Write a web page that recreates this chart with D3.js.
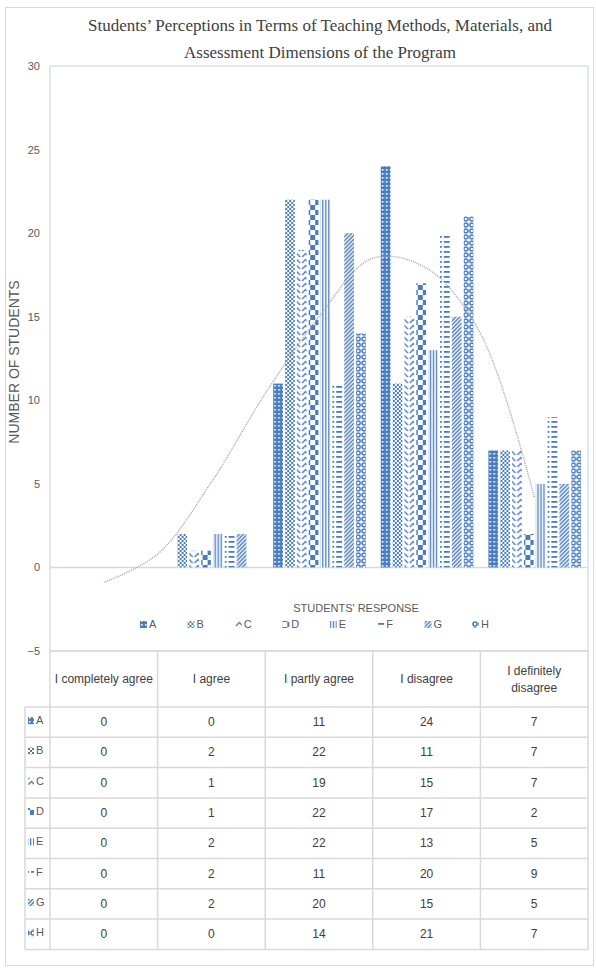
<!DOCTYPE html>
<html>
<head>
<meta charset="utf-8">
<script src="https://cdn.jsdelivr.net/npm/d3@7"></script>
<style>
  body { margin: 0; background: #fff; }
  svg { display: block; }
</style>
</head>
<body>
<div id="chart"></div>
<script>
// **Dữ liệu**
const categories = ["I completely agree", "I agree", "I partly agree", "I disagree", "I definitely disagree"];
const headerLines = [["I completely agree"], ["I agree"], ["I partly agree"], ["I disagree"], ["I definitely", "disagree"]];
const seriesNames = ["A", "B", "C", "D", "E", "F", "G", "H"];
const valuesA = [0, 0, 11, 24, 7];
const valuesB = [0, 2, 22, 11, 7];
const valuesC = [0, 1, 19, 15, 7];
const valuesD = [0, 1, 22, 17, 2];
const valuesE = [0, 2, 22, 13, 5];
const valuesF = [0, 2, 11, 20, 9];
const valuesG = [0, 2, 20, 15, 5];
const valuesH = [0, 0, 14, 21, 7];
const yTicks = [-5, 0, 5, 10, 15, 20, 25, 30];
// đường xu hướng (tại các vị trí danh mục 0, 0.5, 1, ... 4)
const trendPos = [0, 0.5, 1, 1.5, 2, 2.5, 3, 3.5, 4];
const trendVal = [-0.9, 0.8, 5.1, 10.4, 15.0, 18.5, 17.9, 14.0, 4.2];

const allValues = [valuesA, valuesB, valuesC, valuesD, valuesE, valuesF, valuesG, valuesH];
const rows = seriesNames.map((s, i) => ({ name: s, values: allValues[i] }));

const width = 596, height = 972;
const plot = { left: 50, right: 588, top: 66, bottom: 651 };
const blue = "#4a7cc0";

const svg = d3.select("#chart").append("svg")
    .attr("width", width)
    .attr("height", height)
    .style("font-family", "'Liberation Sans', Arial, sans-serif");

// **Patterns**
const defs = svg.append("defs");
function pat(id, w, h, draw) {
    const p = defs.append("pattern").attr("id", id)
        .attr("patternUnits", "userSpaceOnUse").attr("width", w).attr("height", h);
    p.append("rect").attr("width", w).attr("height", h).attr("fill", "#fff");
    draw(p);
}
// A: lưới nhỏ
pat("pA", 4, 4, p => {
    p.append("rect").attr("width", 4).attr("height", 4).attr("fill", blue);
    p.append("rect").attr("x", 1).attr("y", 1).attr("width", 1.6).attr("height", 1.6).attr("fill", "#fff");
});
// B: caro nhỏ
pat("pB", 4, 4, p => {
    p.append("rect").attr("width", 2).attr("height", 2).attr("fill", blue);
    p.append("rect").attr("x", 2).attr("y", 2).attr("width", 2).attr("height", 2).attr("fill", blue);
});
// C: zigzag
pat("pC", 9, 6, p => {
    p.append("path").attr("d", "M1,5 L4.5,1.5 L8,5").attr("fill", "none").attr("stroke", blue).attr("stroke-width", 1.4);
});
// D: caro lớn
pat("pD", 10, 10, p => {
    p.append("rect").attr("width", 5).attr("height", 5).attr("fill", blue);
    p.append("rect").attr("x", 5).attr("y", 5).attr("width", 5).attr("height", 5).attr("fill", blue);
});
// E: sọc dọc
pat("pE", 3, 4, p => {
    p.append("rect").attr("width", 1.3).attr("height", 4).attr("fill", blue);
});
// F: sọc ngang
pat("pF", 10, 5, p => {
    p.append("rect").attr("x", 1).attr("y", 1).attr("width", 8).attr("height", 1.8).attr("fill", blue);
});
// G: sọc chéo
pat("pG", 4, 4, p => {
    p.append("path").attr("d", "M-1,5 L5,-1 M-1,1 L1,-1 M3,5 L5,3").attr("stroke", blue).attr("stroke-width", 1.5);
});
// H: vòng tròn
pat("pH", 6, 6, p => {
    p.append("circle").attr("cx", 3).attr("cy", 3).attr("r", 2).attr("fill", "none").attr("stroke", blue).attr("stroke-width", 1.6);
});

// **Khung ngoài**
svg.append("rect")
    .attr("x", 5.5).attr("y", 7.5).attr("width", 588).attr("height", 958)
    .attr("fill", "none").attr("stroke", "#d9d9d9");

// **Thang đo**
const x0 = d3.scaleBand().domain(categories).range([plot.left, plot.right]).padding(0);
const x1 = d3.scaleBand().domain(seriesNames).range([8, x0.bandwidth() - 7]).paddingInner(0.18);
const y = d3.scaleLinear().domain([-5, 30]).range([plot.bottom, plot.top]);

// **Khung vùng vẽ**
svg.append("rect")
    .attr("x", plot.left).attr("y", plot.top)
    .attr("width", plot.right - plot.left).attr("height", plot.bottom - plot.top)
    .attr("fill", "none").attr("stroke", "#bdd0ea");

// **Trục Y**
const yAxis = svg.append("g")
    .attr("transform", `translate(${plot.left},0)`)
    .call(d3.axisLeft(y).tickValues(yTicks).tickSize(0).tickPadding(10));
yAxis.select(".domain").remove();
yAxis.selectAll("text")
    .attr("fill", "#595959")
    .style("font-size", "11px")
    .style("font-family", "'Liberation Sans', Arial, sans-serif");

// đường 0
svg.append("line")
    .attr("x1", plot.left).attr("x2", plot.right)
    .attr("y1", y(0)).attr("y2", y(0))
    .attr("stroke", "#d9d9d9").attr("stroke-width", 1.5);

// **Vẽ cột**
const groups = svg.selectAll(".grp")
    .data(categories)
    .enter().append("g")
    .attr("class", "grp")
    .attr("transform", d => `translate(${x0(d)},0)`);

groups.selectAll("rect")
    .data((c, ci) => rows.map(r => ({ name: r.name, v: r.values[ci] })))
    .enter().append("rect")
    .attr("x", d => x1(d.name))
    .attr("y", d => y(d.v))
    .attr("width", x1.bandwidth())
    .attr("height", d => y(0) - y(d.v))
    .attr("fill", d => `url(#p${d.name})`);

// **Đường xu hướng**
const trendX = p => x0(categories[0]) + x0.bandwidth() / 2 + p * x0.step();
svg.append("path")
    .datum(trendPos.map((p, i) => [trendX(p), y(trendVal[i])]))
    .attr("d", d3.line().curve(d3.curveCatmullRom))
    .attr("fill", "none")
    .attr("stroke", "#a6a6a6")
    .attr("stroke-width", 1.4)
    .attr("stroke-dasharray", "1,1");

// **Tiêu đề**
const title = svg.append("text")
    .attr("x", 320).attr("y", 31)
    .attr("text-anchor", "middle")
    .attr("fill", "#404040")
    .style("font-family", "'Liberation Serif', 'DejaVu Serif', serif")
    .style("font-size", "17px");
title.append("tspan").attr("x", 320).attr("dy", 0)
    .attr("textLength", 464).attr("lengthAdjust", "spacingAndGlyphs")
    .text("Students’ Perceptions in Terms of Teaching Methods, Materials, and");
title.append("tspan").attr("x", 320).attr("dy", 27)
    .text("Assessment Dimensions of the Program");

// **Nhãn trục**
svg.append("text")
    .attr("transform", "translate(19,362) rotate(-90)")
    .attr("text-anchor", "middle")
    .attr("fill", "#595959")
    .style("font-size", "14px")
    .text("NUMBER OF STUDENTS");

svg.append("text")
    .attr("x", 356).attr("y", 612)
    .attr("text-anchor", "middle")
    .attr("fill", "#595959")
    .style("font-size", "11px")
    .text("STUDENTS' RESPONSE");

// **Chú thích**
const lx = d3.scalePoint().domain(seriesNames).range([140, 472]);
const legend = svg.selectAll(".lg")
    .data(seriesNames)
    .enter().append("g")
    .attr("class", "lg")
    .attr("transform", d => `translate(${lx(d)},627)`);
legend.append("rect")
    .attr("x", 0).attr("y", -6).attr("width", 7).attr("height", 7)
    .attr("fill", d => `url(#p${d})`);
legend.append("text")
    .attr("x", 9).attr("y", 1)
    .attr("fill", "#595959")
    .style("font-size", "11px")
    .text(d => d);

// **Bảng dữ liệu**
const headTop = plot.bottom, headBottom = 707, rowH = 30.3;
const tableLeft = 25;
const tableBottom = headBottom + rowH * rows.length;
const grid = "#d9d9d9";
const tbl = svg.append("g").attr("stroke", grid).attr("stroke-width", 1.5);

// đường ngang
tbl.append("line").attr("x1", plot.left).attr("x2", plot.right).attr("y1", headTop).attr("y2", headTop);
d3.range(rows.length + 1).forEach(i => {
    const yy = headBottom + i * rowH;
    tbl.append("line").attr("x1", tableLeft).attr("x2", plot.right).attr("y1", yy).attr("y2", yy);
});
// đường dọc
tbl.append("line").attr("x1", tableLeft).attr("x2", tableLeft).attr("y1", headBottom).attr("y2", tableBottom);
categories.forEach(c => {
    tbl.append("line").attr("x1", x0(c)).attr("x2", x0(c)).attr("y1", headTop).attr("y2", tableBottom);
});
tbl.append("line").attr("x1", plot.right).attr("x2", plot.right).attr("y1", headTop).attr("y2", tableBottom);

// tiêu đề cột
categories.forEach((c, i) => {
    const lines = headerLines[i];
    const cy = (headTop + headBottom) / 2;
    const t = svg.append("text")
        .attr("x", x0(c) + x0.bandwidth() / 2)
        .attr("y", cy + 4 - (lines.length - 1) * 8)
        .attr("text-anchor", "middle")
        .attr("fill", "#404040")
        .style("font-size", "12px");
    lines.forEach((l, j) => t.append("tspan")
        .attr("x", x0(c) + x0.bandwidth() / 2)
        .attr("dy", j === 0 ? 0 : 17)
        .text(l));
});

// các hàng
rows.forEach((r, i) => {
    const cy = headBottom + i * rowH + rowH / 2;
    svg.append("rect")
        .attr("x", 28).attr("y", cy - 5).attr("width", 6).attr("height", 7)
        .attr("fill", `url(#p${r.name})`);
    svg.append("text")
        .attr("x", 36).attr("y", cy + 2)
        .attr("fill", "#595959")
        .style("font-size", "11px")
        .text(r.name);
    r.values.forEach((v, ci) => {
        svg.append("text")
            .attr("x", x0(categories[ci]) + x0.bandwidth() / 2)
            .attr("y", cy + 4)
            .attr("text-anchor", "middle")
            .attr("fill", "#404040")
            .style("font-size", "12px")
            .text(v);
    });
});
</script>
</body>
</html>
